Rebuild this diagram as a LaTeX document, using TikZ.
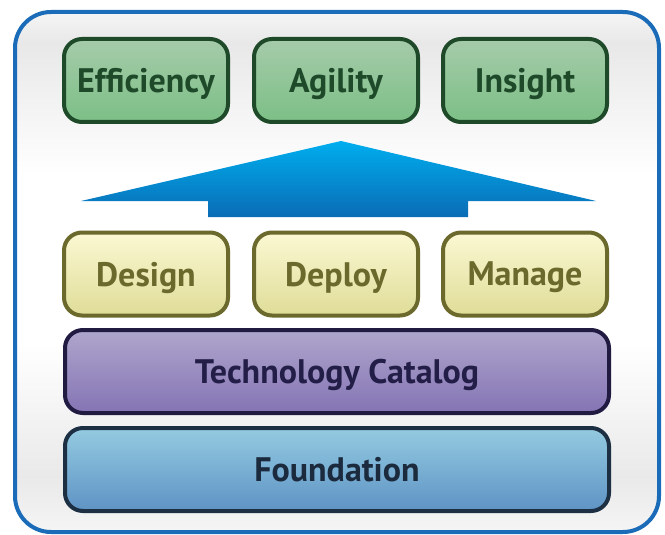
\documentclass[tikz,border=0pt]{standalone}
\usepackage{fontspec}
\setmainfont{PT Sans}
\usepackage{xcolor}
\usetikzlibrary{positioning}

\definecolor{framecol}{HTML}{1A6CB8}
\definecolor{goaltop}{HTML}{A6CBAA}
\definecolor{goalbot}{HTML}{7CBF86}
\definecolor{goalline}{HTML}{1E4A2A}
\definecolor{steptop}{HTML}{FBF8D3}
\definecolor{stepbot}{HTML}{DFDD98}
\definecolor{stepline}{HTML}{6B692C}
\definecolor{cattop}{HTML}{AFA6CC}
\definecolor{catbot}{HTML}{8474B4}
\definecolor{catline}{HTML}{211B42}
\definecolor{cattext}{HTML}{231E48}
\definecolor{fndtop}{HTML}{94CBE0}
\definecolor{fndbot}{HTML}{5E93C5}
\definecolor{fndline}{HTML}{1D2F42}
\definecolor{fndtext}{HTML}{1B2A3C}
\definecolor{arrowtop}{HTML}{00AEEF}
\definecolor{arrowbot}{HTML}{0A6CB5}

\pgfdeclareverticalshading{framebg}{100bp}{%
  color(0bp)=(white!92!gray);
  color(25bp)=(white!92!gray);
  color(30.3bp)=(white!83!gray);
  color(43.2bp)=(white);
  color(59.3bp)=(white);
  color(72bp)=(white!82!gray);
  color(75bp)=(white!92!gray);
  color(100bp)=(white!92!gray)}

\tikzset{
  box/.style={rectangle, rounded corners=18pt, line width=4pt, inner sep=0pt,
    minimum height=83pt, text depth=0pt, font=\fontsize{34}{40}\selectfont\bfseries},
  goalbox/.style={box, minimum width=164pt, draw=goalline, text=goalline,
    top color=goaltop, bottom color=goalbot},
  stepbox/.style={box, minimum width=164pt, draw=stepline, text=stepline,
    top color=steptop, bottom color=stepbot},
  layerbox/.style={box, minimum width=544pt}
}

\begin{document}
\begin{tikzpicture}[x=1pt,y=-1pt]
\useasboundingbox (0,0) rectangle (665,535);

% outer frame
\path[shading=framebg, draw=framecol, line width=4pt, rounded corners=36pt]
  (15,12) rectangle (659,532);

% goals
\node[goalbox] (efficiency) at (146,80.5) {Efficiency};
\node[goalbox] (agility) at (336,80.5) {Agility};
\node[goalbox] (insight) at (525,80.5) {Insight};

% big arrow
\shade[top color=arrowtop, bottom color=arrowbot]
  (341,141) -- (596,201) -- (468,201) -- (468,217) -- (208,217)
  -- (208,201) -- (81,201) -- cycle;

% steps
\node[stepbox] (design) at (146,274) {Design};
\node[stepbox] (deploy) at (336,274) {Deploy};
\node[stepbox] (manage) at (525,274) {Manage};

% layers
\node[layerbox, draw=catline, text=cattext, top color=cattop, bottom color=catbot]
  (catalog) at (337,371.5) {Technology Catalog};
\node[layerbox, draw=fndline, text=fndtext, top color=fndtop, bottom color=fndbot]
  (foundation) at (337,469.5) {Foundation};
\end{tikzpicture}
\end{document}
